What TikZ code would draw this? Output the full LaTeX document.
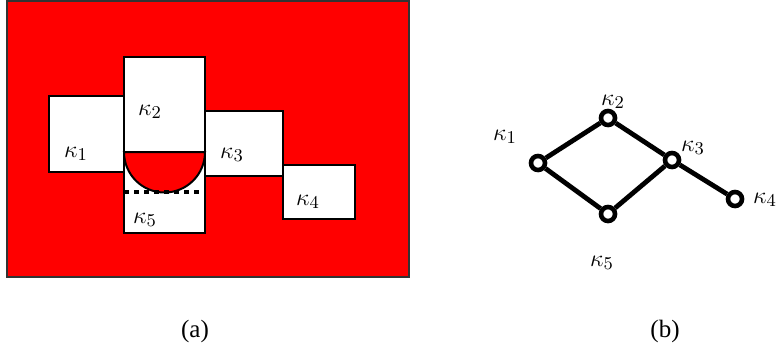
\documentclass[tikz,border=0pt]{standalone}
\usepackage{fontspec}
\setmainfont{Liberation Serif}
\begin{document}
\begin{tikzpicture}[x=0.5pt,y=-0.5pt,
  region/.style={draw=black,line width=1pt,fill=white},
  lab/.style={inner sep=0pt,font=\fontsize{12.5}{15}\selectfont},
  vtx/.style={circle,draw=black,line width=2.3pt,fill=white,minimum size=7pt,inner sep=0pt},
  edge/.style={line width=2.4pt}]
\useasboundingbox (0,0) rectangle (779,359);
% (a)
\draw[fill=red,draw=black!80,line width=1pt] (7,1) rectangle (409,277);
\draw[region] (49,96) rectangle (124,172);
\draw[region] (124,57) rectangle (205,152);
\draw[region] (205,111) rectangle (283,176);
\draw[region] (283,165) rectangle (355,219);
\draw[region] (124,152) rectangle (205,233);
\draw[fill=red,draw=black,line width=1pt] (124,152) arc[start angle=180,end angle=0,radius=40.5] -- cycle;
\draw[line width=2.4pt,dash pattern=on 2.5pt off 2.5pt] (124,192) -- (205,192);
\node[lab] (l1) at (76,154) {$\kappa_1$};
\node[lab] (l2) at (150,112) {$\kappa_2$};
\node[lab] (l3) at (232,155) {$\kappa_3$};
\node[lab] (l4) at (308,202) {$\kappa_4$};
\node[lab] (l5) at (145,220) {$\kappa_5$};
\node[lab] (capa) at (195,331) {(a)};
% (b)
\node[vtx] (v1) at (538,163) {};
\node[vtx] (v2) at (608,118) {};
\node[vtx] (v3) at (672,160) {};
\node[vtx] (v4) at (735,199) {};
\node[vtx] (v5) at (608,214) {};
\draw[edge] (v1) -- (v2);
\draw[edge] (v2) -- (v3);
\draw[edge] (v1) -- (v5);
\draw[edge] (v5) -- (v3);
\draw[edge] (v3) -- (v4);
\node[lab] (m1) at (505,137) {$\kappa_1$};
\node[lab] (m2) at (613,102) {$\kappa_2$};
\node[lab] (m3) at (693,148) {$\kappa_3$};
\node[lab] (m4) at (765,200) {$\kappa_4$};
\node[lab] (m5) at (602,263) {$\kappa_5$};
\node[lab] (capb) at (665,331) {(b)};
\end{tikzpicture}
\end{document}
